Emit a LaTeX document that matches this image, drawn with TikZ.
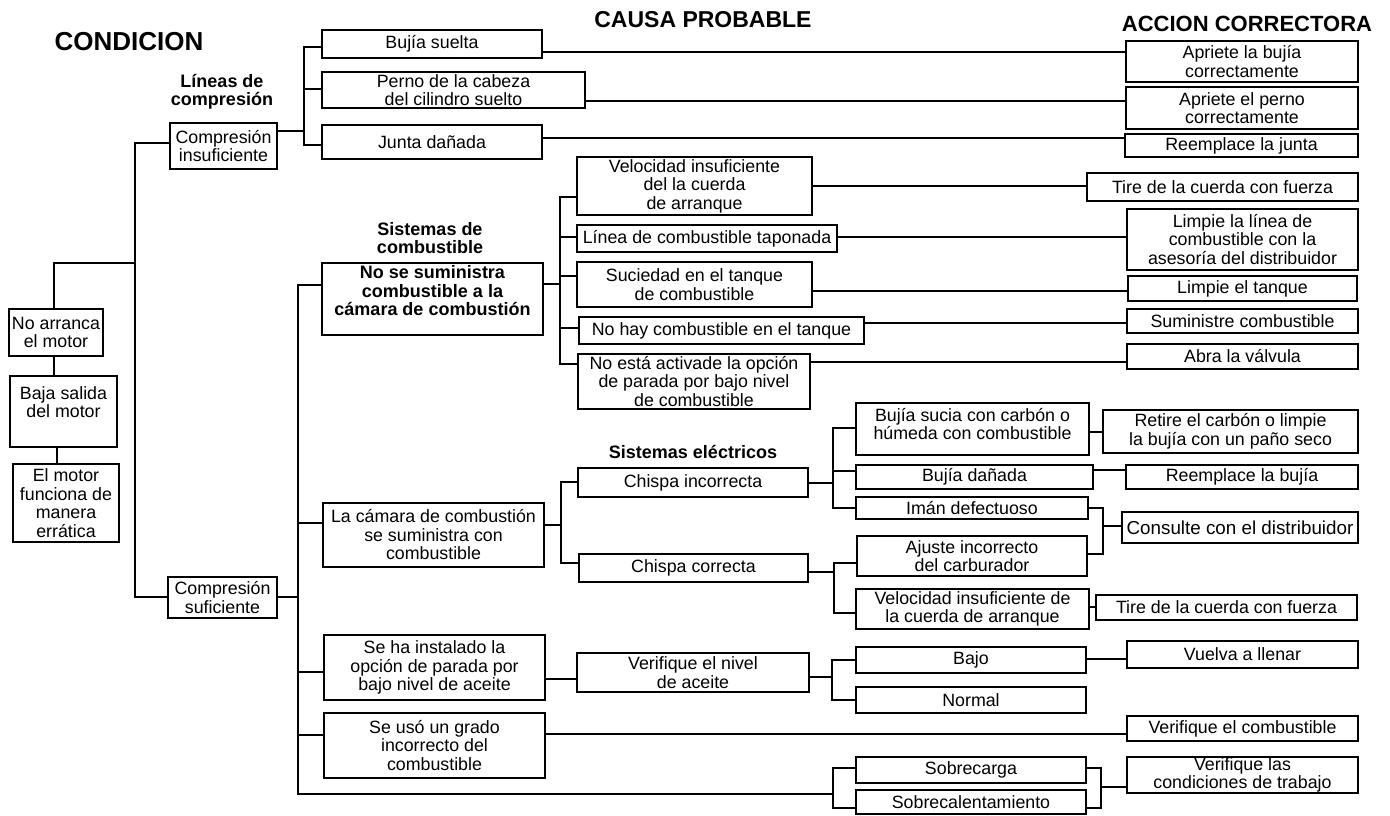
\documentclass[tikz,border=0pt]{standalone}
\usepackage{fontspec}
\setmainfont{Liberation Sans}
\newcommand{\bx}[7][box]{\node[#1, minimum width={(#5-#3)*1pt}, minimum height={(#6-#4)*1pt}] (#2) at ({(#3+#5)/2},{(#4+#6)/2}) {#7};}
\begin{document}
\begin{tikzpicture}[x=1pt,y=-1pt,line width=1.1pt,
  box/.style={draw, line width=1.1pt, inner sep=0pt, align=center, font=\fontsize{17.8}{18.5}\selectfont},
  bbox/.style={box, font=\fontsize{18}{18.5}\selectfont\bfseries},
  hdr/.style={align=center, inner sep=0pt, font=\fontsize{18}{18.5}\selectfont\bfseries},
  ttl/.style={inner sep=0pt}]
\useasboundingbox (0,0) rectangle (1390,815);
% titles
\node[ttl, font=\fontsize{26}{26}\selectfont\bfseries] (tcond) at (129,42) {CONDICION};
\node[ttl, font=\fontsize{23}{23}\selectfont\bfseries] (tcausa) at (703,20) {CAUSA PROBABLE};
\node[ttl, font=\fontsize{22}{22}\selectfont\bfseries] (taccion) at (1247,24) {ACCION CORRECTORA};
\node[hdr] (hlc) at (222,92) {Líneas de\\compresión};
\node[hdr] (hsc) at (430,238) {Sistemas de\\combustible};
\node[hdr] (hse) at (693,452) {Sistemas eléctricos};
% left column
\bx{na}{9}{309}{103}{356}{No arranca\\el motor}
\bx{bsm}{10}{376}{117}{447}{Baja salida\\del motor\\\mbox{}}
\bx{emf}{13}{464}{119}{542}{El motor\\funciona de\\manera\\errática}
\bx{ci}{170}{123}{277}{169}{Compresión\\insuficiente}
\bx{cs}{168}{577}{277}{618}{Compresión\\suficiente}
% compression branch
\bx{bsu}{322}{30}{542}{58}{Bujía suelta}
\bx{per}{322}{72}{585}{108}{Perno de la cabeza\\del cilindro suelto}
\bx{jun}{322}{125}{542}{159}{Junta dañada}
\bx{ap1}{1126}{41}{1358}{82}{Apriete la bujía\\correctamente}
\bx{ap2}{1126}{87}{1358}{129}{Apriete el perno\\correctamente}
\bx{rju}{1125}{134}{1358}{157}{Reemplace la junta}
% fuel
\bx[bbox]{nss}{322}{263}{543}{335}{No se suministra\\combustible a la\\cámara de combustión\\[-2pt]\mbox{}}
\bx{vel1}{577}{157}{812}{215}{Velocidad insuficiente\\del la cuerda\\de arranque}
\bx{lin}{577}{225}{837}{252}{Línea de combustible taponada}
\bx{suc}{577}{262}{812}{307}{Suciedad en el tanque\\de combustible}
\bx{noh}{579}{317}{864}{344}{No hay combustible en el tanque}
\bx{noe}{578}{354}{810}{409}{No está activade la opción\\de parada por bajo nivel\\de combustible}
\bx{tir1}{1087}{173}{1358}{201}{Tire de la cuerda con fuerza}
\bx{lim1}{1127}{209}{1358}{270}{Limpie la línea de\\combustible con la\\asesoría del distribuidor}
\bx{limt}{1128}{276}{1357}{301}{Limpie el tanque}
\bx{sum}{1127}{309}{1358}{333}{Suministre combustible}
\bx{abr}{1127}{344}{1358}{369}{Abra la válvula}
% electrical
\bx{lcc}{323}{503}{544}{567}{La cámara de combustión\\se suministra con\\combustible}
\bx{chi}{578}{468}{808}{497}{Chispa incorrecta}
\bx{chc}{579}{554}{808}{582}{Chispa correcta}
\bx{bsc}{856}{403}{1089}{455}{Bujía sucia con carbón o\\húmeda con combustible\\[-8pt]\mbox{}}
\bx{ret}{1103}{410}{1358}{453}{Retire el carbón o limpie\\la bujía con un paño seco}
\bx{bdn}{856}{465}{1093}{489}{Bujía dañada}
\bx{rbj}{1126}{465}{1358}{489}{Reemplace la bujía}
\bx{imn}{856}{497}{1088}{519}{Imán defectuoso}
\bx[box,font=\fontsize{18.8}{18.5}\selectfont]{con}{1122}{512}{1358}{543}{Consulte con el distribuidor}
\bx{aju}{857}{536}{1087}{576}{Ajuste incorrecto\\del carburador}
\bx{vel2}{856}{589}{1089}{629}{Velocidad insuficiente de\\la cuerda de arranque}
\bx{tir2}{1096}{595}{1357}{620}{Tire de la cuerda con fuerza}
% oil / fuel grade / load
\bx{sha}{324}{635}{545}{700}{Se ha instalado la\\opción de parada por\\bajo nivel de aceite}
\bx{ver}{577}{653}{809}{692}{Verifique el nivel\\de aceite}
\bx{baj}{856}{647}{1086}{673}{Bajo}
\bx{vue}{1127}{641}{1358}{668}{Vuelva a llenar}
\bx{nor}{856}{687}{1086}{713}{Normal}
\bx{seu}{324}{713}{545}{778}{Se usó un grado\\incorrecto del\\combustible}
\bx{vco}{1127}{716}{1358}{741}{Verifique el combustible}
\bx{sob}{856}{757}{1086}{783}{Sobrecarga}
\bx{sca}{856}{790}{1086}{814}{Sobrecalentamiento}
\bx{vlc}{1127}{757}{1358}{793}{Verifique las\\condiciones de trabajo}
% connectors: left
\draw (na.north -| 54,0) |- (135,263);
\draw (na.south -| 54,0) -- (bsm.north -| 54,0);
\draw (bsm.south -| 57,0) -- (emf.north -| 57,0);
\draw (ci.west |- 0,143) -| (135,597) -- (cs.west |- 0,597);
% compression fork
\draw (ci.east |- 0,131) -- (304,131);
\draw (bsu.west |- 0,47) -| (304,145) -- (jun.west |- 0,145);
\draw (304,89) -- (per.west |- 0,89);
\draw (bsu.east |- 0,52) -- (ap1.west |- 0,52);
\draw (per.east |- 0,101) -- (ap2.west |- 0,101);
\draw (jun.east |- 0,138) -- (rju.west |- 0,138);
% trunk 2
\draw (cs.east |- 0,597) -- (298,597);
\draw (nss.west |- 0,285) -| (298,794) -- (833,794);
\draw (298,523) -- (lcc.west |- 0,523);
\draw (298,672) -- (sha.west |- 0,672);
\draw (298,735) -- (seu.west |- 0,735);
% load fork
\draw (sob.west |- 0,768) -| (833,808) -- (sca.west |- 0,808);
\draw (sob.east |- 0,768) -| (1101,808) -- (sca.east |- 0,808);
\draw (1101,787) -- (vlc.west |- 0,787);
% fuel fork
\draw (nss.east |- 0,284) -- (560,284);
\draw (vel1.west |- 0,197) -| (560,364) -- (noe.west |- 0,364);
\draw (560,237) -- (lin.west |- 0,237);
\draw (560,276) -- (suc.west |- 0,276);
\draw (560,328) -- (noh.west |- 0,328);
\draw (vel1.east |- 0,186) -- (tir1.west |- 0,186);
\draw (lin.east |- 0,237) -- (lim1.west |- 0,237);
\draw (suc.east |- 0,291) -- (limt.west |- 0,291);
\draw (noh.east |- 0,323) -- (sum.west |- 0,323);
\draw (noe.east |- 0,362) -- (abr.west |- 0,362);
% combustion chamber fork
\draw (lcc.east |- 0,525) -- (561,525);
\draw (chi.west |- 0,482) -| (561,563) -- (chc.west |- 0,563);
% spark incorrect fork
\draw (chi.east |- 0,483) -- (833,483);
\draw (bsc.west |- 0,428) -| (833,508) -- (imn.west |- 0,508);
\draw (833,471) -- (bdn.west |- 0,471);
\draw (bsc.east |- 0,432) -- (ret.west |- 0,432);
\draw (bdn.east |- 0,470) -- (rbj.west |- 0,470);
\draw (imn.east |- 0,508) -| (1103,554) -- (aju.east |- 0,554);
\draw (1103,526) -- (con.west |- 0,526);
% spark correct fork
\draw (chc.east |- 0,572) -- (834,572);
\draw (aju.west |- 0,563) -| (834,613) -- (vel2.west |- 0,613);
\draw (vel2.east |- 0,607) -- (tir2.west |- 0,607);
% oil
\draw (sha.east |- 0,679) -- (ver.west |- 0,679);
\draw (ver.east |- 0,677) -- (832,677);
\draw (baj.west |- 0,660) -| (832,700) -- (nor.west |- 0,700);
\draw (baj.east |- 0,659) -- (vue.west |- 0,659);
\draw (seu.east |- 0,734) -- (vco.west |- 0,734);
\end{tikzpicture}
\end{document}
